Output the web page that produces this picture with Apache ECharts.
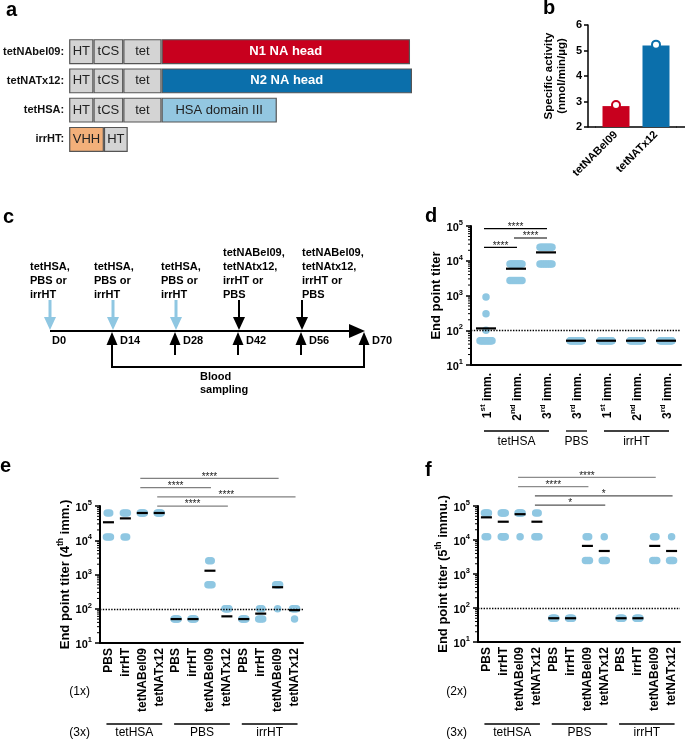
<!DOCTYPE html>
<html><head><meta charset="utf-8">
<script src="https://cdn.jsdelivr.net/npm/echarts@6/dist/echarts.min.js"></script>
<style>html,body{margin:0;padding:0;background:#fff}#c{width:685px;height:740px}</style>
</head><body><div id="c"></div>
<script>
// ================= DATA =================
// panel a : construct schematics (relative domain lengths)
const constructNames = ['tetNAbel09:', 'tetNATx12:', 'tetHSA:', 'irrHT:'];
const domainLabels = [
  ['HT', 'tCS', 'tet', 'N1 NA head'],
  ['HT', 'tCS', 'tet', 'N2 NA head'],
  ['HT', 'tCS', 'tet', 'HSA domain III'],
  ['VHH', 'HT']
];
const domainLengths = [
  [24.5, 30, 38.5, 250],
  [24.5, 30, 38.5, 252],
  [24.5, 30, 38.5, 116],
  [35, 24]
];
// panel b : specific activity
const bCategories = ['tetNABel09', 'tetNATx12'];
const bActivity = [2.82, 5.2];
const bPoints = [2.86, 5.23];
// panel c : immunisation schedule
const dayMarks = [0, 14, 28, 42, 56, 70];
const injectionDays = [0, 14, 28, 42, 56];
const injectionRound = ['prime', 'prime', 'prime', 'boost', 'boost'];
const injectionAgents = [
  'tetHSA,\nPBS or\nirrHT', 'tetHSA,\nPBS or\nirrHT', 'tetHSA,\nPBS or\nirrHT',
  'tetNABel09,\ntetNAtx12,\nirrHT or\nPBS', 'tetNABel09,\ntetNAtx12,\nirrHT or\nPBS'
];
const samplingDays = [14, 28, 42, 56, 70];
// shared
const detectionLimit = 100;
const titerTicks = [10, 100, 1000, 10000, 100000];
// panel d
const dCategories = ['1st imm.', '2nd imm.', '3rd imm.', '3rd imm.', '1st imm.', '2nd imm.', '3rd imm.'];
const dGroupNames = ['tetHSA', 'PBS', 'irrHT'];
const dGroupSpans = [[0, 2], [3, 3], [4, 6]];
const dTiters = [
  [50,50,50,50,50,50,50,50,50,50,50,50,50,50,50,100,300,900],
  [8100,8100,8100,8100,8100,8100,8100,8100,8100,8100,8100,2700,2700,2700,2700,2700,2700,2700],
  [24300,24300,24300,24300,24300,24300,24300,24300,24300,24300,8100,8100,8100,8100,8100,8100,8100,8100],
  [50,50,50,50,50,50,50,50,50,50,50,50,50,50,50,50,50,50],
  [50,50,50,50,50,50,50,50,50,50,50,50,50,50,50,50,50,50],
  [50,50,50,50,50,50,50,50,50,50,50,50,50,50,50,50,50,50],
  [50,50,50,50,50,50,50,50,50,50,50,50,50,50,50,50,50,50]
];
const dMeans = [113, 5900, 17400, 50, 50, 50, 50];
const dSigPairs = [[0, 2], [1, 2], [0, 1]];
const dSigLabels = ['****', '****', '****'];
// panel e (4th immunisation)
const eCategories = ['PBS','irrHT','tetNABel09','tetNATx12','PBS','irrHT','tetNABel09','tetNATx12','PBS','irrHT','tetNABel09','tetNATx12'];
const efGroupNames = ['tetHSA', 'PBS', 'irrHT'];
const efGroupSpans = [[0, 3], [4, 7], [8, 11]];
const eTiters = [
  [62500,62500,12500,12500,12500],
  [62500,62500,62500,12500,12500],
  [62500,62500,62500,62500,62500],
  [62500,62500,62500,62500,62500],
  [50,50,50,50,50],
  [50,50,50,50,50],
  [2500,2500,500,500,500],
  [100,100,100,100,100],
  [50,50,50,50,50],
  [100,100,50,50,50],
  [500,500,500,500,100],
  [100,100,100,100,50]
];
const eMeans = [33500, 43500, 62500, 62500, 50, 50, 1290, 60, 50, 72, 425, 91];
const eSigPairs = [[2, 10], [2, 6], [3, 11], [3, 7]];
const eSigLabels = ['****', '****', '****', '****'];
// panel f (5th immunisation)
const fCategories = eCategories.slice();
const fTiters = [
  [62500,62500,62500,62500,12500,12500],
  [62500,62500,62500,62500,12500,12500,12500,12500,12500],
  [62500,62500,62500,62500,62500,12500],
  [62500,62500,12500,12500,12500],
  [50,50,50,50,50],
  [50,50,50,50,50],
  [12500,12500,2500,2500,2500],
  [12500,2500,2500,2500,2500],
  [50,50,50,50,50],
  [50,50,50,50,50],
  [12500,12500,2500,2500,2500],
  [12500,2500,2500,2500,2500]
];
const fMeans = [46400, 34500, 57400, 34500, 50, 50, 6700, 4750, 50, 50, 6700, 4750];
const fSigPairs = [[2, 10], [2, 6], [3, 11], [3, 7]];
const fSigLabels = ['****', '****', '*', '*'];

// ================= STYLE =================
const FONT = "'Liberation Sans', Arial, Helvetica, sans-serif";
const DOT = '#8fc7e2';
const RED = '#c8001e', BLUE = '#0b6fab', HSA = '#93c7e1', ORANGE = '#f3b07a', GREY = '#d4d4d4';
const yMin = titerTicks[0], yMax = titerTicks[titerTicks.length - 1];

function expLabel(v) { const e = Math.round(Math.log10(v)); return '{b|10}{s|' + e + '}'; }
const expRich = {
  b: {fontSize: 11, fontWeight: 'bold', color: '#000', lineHeight: 14, verticalAlign: 'bottom', fontFamily: FONT},
  s: {fontSize: 7.5, fontWeight: 'bold', color: '#000', lineHeight: 14, verticalAlign: 'top', fontFamily: FONT}
};
function ordLabel(s) {
  const m = s.match(/^(\d)(st|nd|rd|th)\s(.+)$/);
  return '{n|' + m[1] + '}{s|' + m[2] + '}{n| ' + m[3] + '}';
}
const ordRich = {
  n: {fontSize: 12, fontWeight: 'bold', color: '#000', lineHeight: 15, verticalAlign: 'bottom', fontFamily: FONT},
  s: {fontSize: 8, fontWeight: 'bold', color: '#000', lineHeight: 15, verticalAlign: 'top', fontFamily: FONT}
};
const nameRich = {
  n: {fontSize: 13, fontWeight: 'bold', color: '#000', lineHeight: 16, verticalAlign: 'bottom', fontFamily: FONT},
  s: {fontSize: 8.5, fontWeight: 'bold', color: '#000', lineHeight: 16, verticalAlign: 'top', fontFamily: FONT}
};

// minor log ticks (axis decoration)
const minorVals = [];
for (let k = 1; k < 5; k++) for (let m = 2; m <= 9; m++) minorVals.push(m * Math.pow(10, k));

function swarm(titers, maxW, spMax) {
  const out = [];
  titers.forEach((vals, g) => {
    const counts = {}, seen = {};
    vals.forEach(v => { counts[v] = (counts[v] || 0) + 1; });
    vals.forEach(v => {
      const n = counts[v];
      const i = seen[v] = (seen[v] === undefined ? 0 : seen[v] + 1);
      const sp = n > 1 ? Math.min(spMax, maxW / (n - 1)) : 0;
      out.push({value: [g, v], symbolOffset: [(i - (n - 1) / 2) * sp, 0]});
    });
  });
  return out;
}

function txt(text, x, y, font, align, valign, extra) {
  return Object.assign({text: text, x: x, y: y, font: font, fill: '#000',
    align: align, textAlign: align, verticalAlign: valign, textVerticalAlign: valign}, extra || {});
}

function minorTickRender(params, api) {
  const p = api.coord([0, api.value(1)]);
  const x = p[0] - api.size([1, 0])[0] / 2;
  return {type: 'line', shape: {x1: x - 3, y1: p[1], x2: x, y2: p[1]}, style: {stroke: '#000', lineWidth: 1}};
}

function dotPanel(cfg) {
  const gi = cfg.grid;
  const base = {xAxisIndex: gi, yAxisIndex: gi, silent: true, animation: false};
  return [
    Object.assign({type: 'line', data: [], markLine: {silent: true, symbol: ['none', 'none'], label: {show: false},
      lineStyle: {type: 'dotted', color: '#000', width: 1.4}, data: [{yAxis: detectionLimit}]}}, base),
    Object.assign({type: 'custom', clip: false, data: minorVals.map(v => [0, v]), encode: {x: 0, y: 1}, renderItem: minorTickRender}, base),
    Object.assign({type: 'scatter', symbol: 'circle', symbolSize: cfg.dot, itemStyle: {color: DOT, opacity: 1},
      data: swarm(cfg.titers, cfg.maxW, cfg.sp), z: 3}, base),
    Object.assign({type: 'scatter', symbol: 'rect', symbolSize: [cfg.meanW, 2.2], itemStyle: {color: '#000', opacity: 1},
      data: cfg.means.map((m, i) => [i, m]), z: 4}, base),
    Object.assign({type: 'custom', clip: false, z: 5, data: cfg.sigPairs.map(s => [s[0], s[1], yMax]), encode: {x: [0, 1], y: 2},
      renderItem: function (params, api) {
        const i = params.dataIndex;
        const top = api.coord([0, yMax])[1];
        const y = top + cfg.sigBase + i * cfg.sigStep;
        const x1 = api.coord([api.value(0), yMax])[0] - 2;
        const x2 = api.coord([api.value(1), yMax])[0] + 1;
        return {type: 'group', children: [
          {type: 'line', shape: {x1: x1, y1: y, x2: x2, y2: y}, style: {stroke: cfg.sigColors[i], lineWidth: 1.2}},
          {type: 'text', style: txt(cfg.sigLabels[i], (x1 + x2) / 2, y - 1.5, '10px ' + FONT, 'center', 'middle', {fill: '#222'})}
        ]};
      }}, base),
    Object.assign({type: 'custom', clip: false, data: cfg.groupSpans.map(s => [s[0], s[1], yMin]), encode: {x: [0, 1], y: 2},
      renderItem: function (params, api) {
        const i = params.dataIndex;
        const bottom = api.coord([0, yMin])[1];
        let x1 = api.coord([api.value(0), yMin])[0] - 2, x2 = api.coord([api.value(1), yMin])[0] + 3;
        if (x2 - x1 < 21) { const m = (x1 + x2) / 2; x1 = m - 10.5; x2 = m + 10.5; }
        return {type: 'group', children: [
          {type: 'line', shape: {x1: x1, y1: bottom + cfg.gLine, x2: x2, y2: bottom + cfg.gLine}, style: {stroke: '#000', lineWidth: 1.3}},
          {type: 'text', style: txt(cfg.groupNames[i], (x1 + x2) / 2, bottom + cfg.gText, '12px ' + FONT, 'center', 'middle')}
        ]};
      }}, base)
  ];
}

function logAxis(gi, name, nameGap, rich) {
  return {gridIndex: gi, type: 'log', logBase: 10, min: yMin, max: yMax,
    axisLine: {show: true, onZero: false, lineStyle: {color: '#000', width: 2}},
    axisTick: {show: true, length: 5, lineStyle: {color: '#000', width: 1.5}},
    axisLabel: {formatter: expLabel, rich: expRich, margin: 8},
    splitLine: {show: false}, minorTick: {show: false},
    name: name, nameLocation: 'middle', nameGap: nameGap,
    nameTextStyle: rich ? {rich: nameRich} : {fontSize: 13, fontWeight: 'bold', color: '#000', fontFamily: FONT}};
}
function catAxis(gi, data, margin, formatter, rich) {
  return {gridIndex: gi, type: 'category', data: data,
    axisLine: {lineStyle: {color: '#000', width: 2}},
    axisTick: {alignWithLabel: true, length: 4, lineStyle: {color: '#000', width: 1.5}},
    axisLabel: {rotate: 90, interval: 0, margin: margin, color: '#000', fontWeight: 'bold', fontSize: 12, fontFamily: FONT,
      formatter: formatter, rich: rich},
    splitLine: {show: false}};
}

// panel c renderer
function timelineRender(params, api) {
  const X = d => api.coord([d, 0])[0];
  const y0 = api.coord([0, 0])[1];
  const els = [];
  const L = (x1, y1, x2, y2, c, w) => els.push({type: 'line', shape: {x1, y1, x2, y2}, style: {stroke: c, lineWidth: w}});
  const T = (pts, c) => els.push({type: 'polygon', shape: {points: pts}, style: {fill: c}});
  const xEnd = X(dayMarks[dayMarks.length - 1]);
  L(X(dayMarks[0]), y0, xEnd - 10, y0, '#000', 2);
  T([[xEnd - 16, y0 - 7], [xEnd, y0], [xEnd - 16, y0 + 7]], '#000');
  injectionDays.forEach((d, i) => {
    const x = X(d);
    const prime = injectionRound[i] === 'prime';
    const c = prime ? DOT : '#000';
    L(x, y0 - 31, x, y0 - 13, c, prime ? 3 : 2);
    T([[x - 6, y0 - 14], [x + 6, y0 - 14], [x, y0 - 1]], c);
  });
  samplingDays.forEach((d, i) => {
    const x = X(d) - 1;
    const edge = i === 0 || i === samplingDays.length - 1;
    L(x, y0 + 12, x, edge ? y0 + 37 : y0 + 24, '#000', 2);
    T([[x - 5.5, y0 + 14], [x + 5.5, y0 + 14], [x, y0 + 1]], '#000');
  });
  const xa = X(samplingDays[0]) - 1, xb = X(samplingDays[samplingDays.length - 1]) - 1;
  L(xa - 1, y0 + 36, xb + 1, y0 + 36, '#000', 2);
  dayMarks.forEach(d => {
    const sampled = samplingDays.indexOf(d) >= 0;
    els.push({type: 'text', style: txt('D' + d, X(d) + (sampled ? 7 : 2), y0 + 10, 'bold 11px ' + FONT, 'left', 'middle')});
  });
  return {type: 'group', children: els};
}

// ================= GRAPHICS (text annotations) =================
const graphics = [];
function gText(text, x, y, font, align, valign, lh) {
  graphics.push({type: 'text', x: x, y: y, silent: true, style: txt(text, 0, 0, font, align, valign, lh ? {lineHeight: lh} : {})});
}
const letterFont = 'bold 20px ' + FONT;
gText('a', 6, 10, letterFont, 'left', 'middle');
gText('b', 543, 8, letterFont, 'left', 'middle');
gText('c', 3, 217, letterFont, 'left', 'middle');
gText('d', 425, 216, letterFont, 'left', 'middle');
gText('e', 0, 466, letterFont, 'left', 'middle');
gText('f', 425, 470, letterFont, 'left', 'middle');
const injTextX = [30, 94, 161, 223, 302];
injectionAgents.forEach((t, i) => gText(t, injTextX[i], 301.5, 'bold 11px ' + FONT, 'left', 'bottom', 14));
gText('Blood\nsampling', 200, 370.5, 'bold 11px ' + FONT, 'left', 'top', 13);
gText('(1x)', 90, 692, '12px ' + FONT, 'right', 'middle');
gText('(3x)', 90, 733, '12px ' + FONT, 'right', 'middle');
gText('(2x)', 467, 692, '12px ' + FONT, 'right', 'middle');
gText('(3x)', 467, 733, '12px ' + FONT, 'right', 'middle');
// extension of panel b baseline beyond category band
graphics.push({type: 'line', silent: true, shape: {x1: 588, y1: 127, x2: 596, y2: 127}, style: {stroke: '#000', lineWidth: 1.5}});
graphics.push({type: 'line', silent: true, shape: {x1: 676, y1: 127, x2: 685, y2: 127}, style: {stroke: '#000', lineWidth: 1.5}});

// ================= SERIES =================
const series = [];
// panel a stacked domain bars
function domainColor(r, s) {
  if (r === 3) return s === 0 ? ORANGE : GREY;
  if (s < 3) return GREY;
  return [RED, BLUE, HSA][r];
}
for (let s = 0; s < 4; s++) {
  series.push({type: 'bar', xAxisIndex: 0, yAxisIndex: 0, stack: 'a', barWidth: 25, silent: true,
    itemStyle: {borderColor: '#555', borderWidth: 1.2},
    data: domainLengths.map((row, r) => row[s] === undefined ? '-' : {
      value: row[s],
      itemStyle: {color: domainColor(r, s)},
      label: {show: true, position: 'inside', formatter: domainLabels[r][s],
        color: (s === 3 && r < 2) ? '#fff' : '#222',
        fontWeight: (s === 3 && r < 2) ? 'bold' : 'normal', fontSize: 13, fontFamily: FONT}
    })});
}
// panel b
const bColors = [RED, BLUE];
series.push({type: 'bar', xAxisIndex: 1, yAxisIndex: 1, barWidth: 27, silent: true,
  data: bActivity.map((v, i) => ({value: v, itemStyle: {color: bColors[i]}}))});
series.push({type: 'scatter', xAxisIndex: 1, yAxisIndex: 1, symbolSize: 8, z: 4, silent: true,
  data: bPoints.map((v, i) => ({value: [i, v], itemStyle: {color: '#fff', borderColor: bColors[i], borderWidth: 2, opacity: 1}}))});
// panel c
series.push({type: 'custom', xAxisIndex: 2, yAxisIndex: 2, clip: false, silent: true, data: [[0, 0]], renderItem: timelineRender});
// panels d, e, f
series.push(...dotPanel({grid: 3, titers: dTiters, means: dMeans, dot: 7.5, maxW: 12, sp: 3, meanW: 20,
  sigPairs: dSigPairs, sigLabels: dSigLabels, sigBase: 2.7, sigStep: 9.3, sigColors: ['#000', '#000', '#000'],
  groupSpans: dGroupSpans, groupNames: dGroupNames, gLine: 66, gText: 77}));
series.push(...dotPanel({grid: 4, titers: eTiters, means: eMeans, dot: 7.5, maxW: 4, sp: 2.5, meanW: 11,
  sigPairs: eSigPairs, sigLabels: eSigLabels, sigBase: -27.7, sigStep: 9.3, sigColors: ['#808080', '#808080', '#808080', '#808080'],
  groupSpans: efGroupSpans, groupNames: efGroupNames, gLine: 81, gText: 90}));
series.push(...dotPanel({grid: 5, titers: fTiters, means: fMeans, dot: 7.5, maxW: 4, sp: 2.5, meanW: 11,
  sigPairs: fSigPairs, sigLabels: fSigLabels, sigBase: -28.7, sigStep: 9.3, sigColors: ['#8c8c8c', '#8c8c8c', '#555', '#555'],
  groupSpans: efGroupSpans, groupNames: efGroupNames, gLine: 82, gText: 91}));

// ================= CHART =================
const chart = echarts.init(document.getElementById('c'), null, {renderer: 'canvas', width: 685, height: 740});
chart.setOption({
  animation: false,
  backgroundColor: '#fff',
  textStyle: {fontFamily: FONT},
  grid: [
    {left: 67, top: 37, width: 345, height: 117},
    {left: 596, top: 25, width: 80, height: 102},
    {left: 50, top: 231, width: 315, height: 100},
    {left: 471, top: 226, width: 210, height: 139},
    {left: 100, top: 506, width: 203, height: 137},
    {left: 478, top: 506, width: 202, height: 136}
  ],
  xAxis: [
    {gridIndex: 0, type: 'value', min: 0, max: 345, show: false},
    {gridIndex: 1, type: 'category', data: bCategories,
      axisLine: {lineStyle: {color: '#000', width: 1.5}},
      axisTick: {alignWithLabel: true, length: 4, lineStyle: {color: '#000', width: 1.5}},
      axisLabel: {rotate: 45, interval: 0, margin: 6, fontWeight: 'bold', fontSize: 11, color: '#000', fontFamily: FONT}},
    {gridIndex: 2, type: 'value', min: dayMarks[0], max: dayMarks[dayMarks.length - 1], show: false},
    catAxis(3, dCategories, 8, ordLabel, ordRich),
    catAxis(4, eCategories, 5),
    catAxis(5, fCategories, 5)
  ],
  yAxis: [
    {gridIndex: 0, type: 'category', inverse: true, data: constructNames,
      axisLine: {show: false}, axisTick: {show: false},
      axisLabel: {fontWeight: 'bold', fontSize: 11, color: '#111', margin: 5, fontFamily: FONT}},
    {gridIndex: 1, type: 'value', min: 2, max: 6, interval: 1, offset: 8,
      axisLine: {show: true, lineStyle: {color: '#000', width: 1.5}},
      axisTick: {show: true, length: 4, lineStyle: {color: '#000', width: 1.5}},
      axisLabel: {fontWeight: 'bold', fontSize: 11, color: '#000', margin: 6, fontFamily: FONT},
      splitLine: {show: false},
      name: 'Specific activity\n(nmol/min/µg)', nameLocation: 'middle', nameGap: 20,
      nameTextStyle: {fontWeight: 'bold', fontSize: 11.5, lineHeight: 13, color: '#000', fontFamily: FONT}},
    {gridIndex: 2, type: 'value', min: 0, max: 1, show: false},
    logAxis(3, 'End point titer', 22, false),
    logAxis(4, '{n|End point titer (4}{s|th}{n| imm.)}', 27, true),
    logAxis(5, '{n|End point titer (5}{s|th}{n| immu.)}', 27, true)
  ],
  graphic: graphics,
  series: series
});
</script>
</body></html>
